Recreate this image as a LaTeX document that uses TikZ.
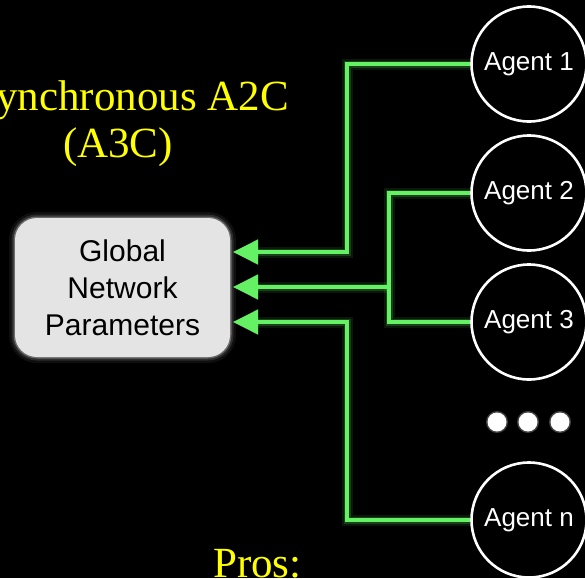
\documentclass[tikz,border=0pt]{standalone}
\usepackage{fontspec}
\setmainfont{Liberation Sans}
\newfontfamily\titlefont{Liberation Serif}
\usetikzlibrary{arrows.meta}
\definecolor{neon}{RGB}{100,242,100}
\definecolor{boxgray}{RGB}{228,228,228}
\definecolor{titleyellow}{RGB}{255,255,0}
\begin{document}
\begin{tikzpicture}[x=1pt,y=-1pt,
  agent/.style={circle,draw=white,line width=2.6pt,fill=black,minimum size=115pt,
    inner sep=0pt,text=white,font=\fontsize{26}{30}\selectfont},
  gbox/.style={rectangle,rounded corners=22pt,fill=boxgray,minimum width=215pt,
    minimum height=139pt,align=center,text=black,font=\fontsize{30}{37}\selectfont,
    preaction={draw=white,line width=12pt,opacity=.06},
    preaction={draw=white,line width=7pt,opacity=.12},
    preaction={draw=white,line width=3pt,opacity=.3}},
  title/.style={text=titleyellow,font=\titlefont\fontsize{43}{50}\selectfont,inner sep=0pt},
  wire/.style={draw=neon,line width=3.8pt,
    preaction={draw=neon,line width=11pt,opacity=.10},
    preaction={draw=neon,line width=7pt,opacity=.18}},
  feed/.style={-{Triangle[length=25pt,width=24pt]}},
  dotmark/.style={circle,fill=white,minimum size=19pt,inner sep=0pt,
    preaction={draw=white,line width=3pt,opacity=.25}}]

% background and frame
\fill[black] (0,0) rectangle (585,578);
\clip (0,0) rectangle (585,578);

% titles
\node[title,anchor=base east] (t1) at (289,110) {Asynchronous A2C};
\node[title,anchor=base] (t2) at (118,157) {(A3C)};
\node[title,anchor=base west] (pros) at (213,577) {Pros:};

% shared parameter store
\node[gbox] (gnp) at (122.5,287.5) {Global\\Network\\Parameters};

% workers
\node[agent] (a1) at (529,64) {Agent 1};
\node[agent] (a2) at (529,193) {Agent 2};
\node[agent] (a3) at (529,322) {Agent 3};
\node[agent] (an) at (529,520) {Agent n};

\node[dotmark] (d1) at (497,422) {};
\node[dotmark] (d2) at (528,422) {};
\node[dotmark] (d3) at (560,422) {};

% routing points
\coordinate (j1) at (347,252);
\coordinate (j2) at (389,322);
\coordinate (j2m) at (389,287);
\coordinate (j3) at (347,322);
\coordinate (in1) at (233,252);
\coordinate (in2) at (233,287);
\coordinate (in3) at (233,322);

% connectors
\draw[wire,feed] (a1.west) -| (j1) -- (in1);
\draw[wire] (a3.west) -- (j2) |- (a2.west);
\draw[wire,feed] (j2m) -- (in2);
\draw[wire,feed] (an.west) -| (j3) -- (in3);
\end{tikzpicture}
\end{document}
